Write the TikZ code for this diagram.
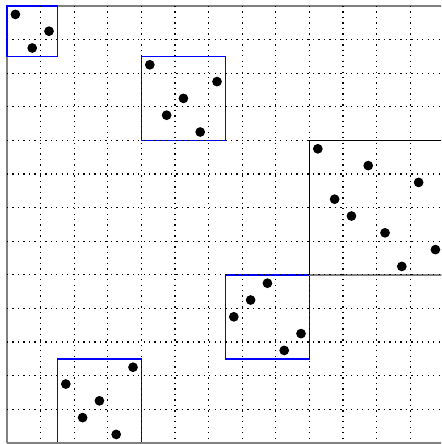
\documentclass[tikz,border=0pt]{standalone}
\begin{document}
\begin{tikzpicture}[x=0.4cm, y=-0.4cm,
  gridline/.style={dash pattern=on 0.9pt off 2.8pt, line width=0.9pt},
  blockbox/.style={draw=blue, line width=1.1pt},
  frameline/.style={draw=gray, line width=1.3pt}]
\clip (-0.417,-0.357) rectangle (25.833,26.07);
% frame
\draw[frameline] (26,0) -- (0,0) -- (0,26);
% blocks
\draw[blockbox] (0,0) rectangle (3,3);
\draw[blockbox] (8,3) rectangle (13,8);
\draw[blockbox] (13,16) rectangle (18,21);
\draw[blockbox] (3,21) rectangle (8,26);
\draw[line width=1.1pt] (18,8) rectangle (26,16);
\draw[frameline] (18,16) -- (26,16);
\draw[frameline] (0,26) -- (26,26);
% grid
\foreach \i in {2,4,...,24} {
  \draw[gridline] (\i,0) -- (\i,26);
  \draw[gridline] (0,\i) -- (26,\i);
}
% entries
\foreach \c [count=\r from 0] in {0,2,1,8,12,10,9,11,18,21,24,19,20,22,25,23,15,14,13,17,16,7,3,5,4,6}
  \fill (\c+0.5,\r+0.5) circle (3.3pt);
\end{tikzpicture}
\end{document}
